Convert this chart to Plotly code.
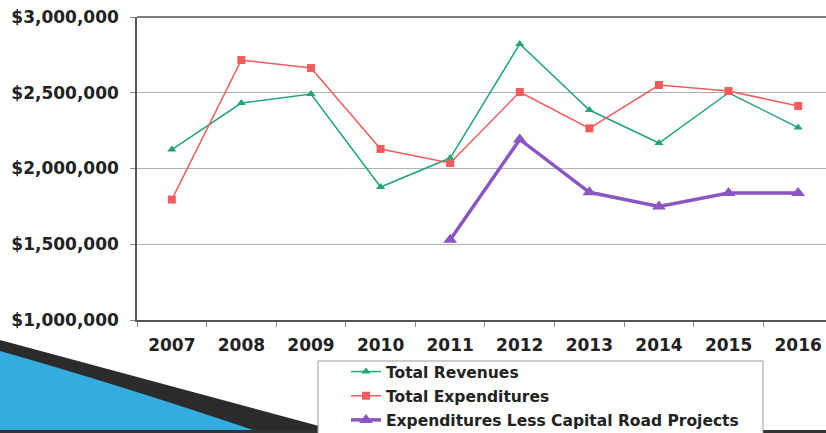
import plotly.graph_objects as go

years = ["2007", "2008", "2009", "2010", "2011", "2012", "2013", "2014", "2015", "2016"]
total_revenues = [2125000, 2432000, 2492000, 1878000, 2069000, 2822000, 2386000, 2168000, 2500000, 2270000]
total_expenditures = [1795000, 2716000, 2663000, 2129000, 2036000, 2505000, 2265000, 2551000, 2511000, 2413000]
exp_less_capital = [None, None, None, None, 1530000, 2192000, 1843000, 1750000, 1838000, 1838000]
y_ticks = [1000000, 1500000, 2000000, 2500000, 3000000]
y_tick_labels = ["$1,000,000", "$1,500,000", "$2,000,000", "$2,500,000", "$3,000,000"]

W, H = 826, 433
L, R, T, B = 137, 0, 17, 113
PW, PH = W - L - R, H - T - B

def px(x):
    return (x - L) / PW

def py(y):
    return (H - B - y) / PH

fig = go.Figure()
fig.add_trace(go.Scatter(
    x=years, y=total_revenues, name="Total Revenues", mode="lines+markers",
    legendgroup="a",
    line=dict(color="#22a47c", width=1.5),
    marker=dict(symbol="triangle-up", size=8, color="#22a47c")))
fig.add_trace(go.Scatter(
    x=years, y=total_expenditures, name="Total Expenditures", mode="lines+markers",
    legendgroup="b",
    line=dict(color="#f25c5c", width=1.5),
    marker=dict(symbol="square", size=8, color="#f25c5c")))
fig.add_trace(go.Scatter(
    x=years, y=exp_less_capital, name="Expenditures Less Capital Road Projects", mode="lines+markers",
    legendgroup="c",
    line=dict(color="#8b55c2", width=3.5),
    marker=dict(symbol="triangle-up", size=12, color="#8b55c2")))

shapes = []
# decorative slide swoosh (bottom-left)
dark = "M {} {} L {} {} L {} {} L {} {} Z".format(
    px(0), py(340), px(345), py(433), px(0), py(433), px(0), py(340))
shapes.append(dict(type="path", path=dark, xref="paper", yref="paper",
                   fillcolor="#2b2b2b", line=dict(width=0), layer="below"))
blue = "M {} {} Q {} {} {} {} L {} {} Z".format(
    px(0), py(351), px(120), py(385), px(262), py(433), px(0), py(433))
shapes.append(dict(type="path", path=blue, xref="paper", yref="paper",
                   fillcolor="#34ace0", line=dict(width=0), layer="below"))
# bottom dark edge
shapes.append(dict(type="rect", xref="paper", yref="paper",
                   x0=px(0), x1=px(826), y0=py(433), y1=py(430),
                   fillcolor="#333333", line=dict(width=0), layer="below"))
# legend box
shapes.append(dict(type="rect", xref="paper", yref="paper",
                   x0=px(318), x1=px(763), y0=py(440), y1=py(361),
                   fillcolor="white", line=dict(color="#999999", width=1), layer="below"))
# top border of plot
shapes.append(dict(type="line", xref="paper", yref="paper", x0=0, x1=1, y0=1, y1=1,
                   line=dict(color="#555555", width=1.5)))

fig.update_layout(
    width=W, height=H,
    margin=dict(l=L, r=R, t=T, b=B, pad=0, autoexpand=False),
    paper_bgcolor="white", plot_bgcolor="white",
    font=dict(family="DejaVu Sans", color="#222222"),
    showlegend=True,
    legend=dict(
        xref="container", yref="container",
        x=346 / W, y=1 - 355 / H, xanchor="left", yanchor="top",
        bgcolor="rgba(0,0,0,0)", borderwidth=0,
        font=dict(size=15.5, family="DejaVu Sans", weight="bold", color="#222222"),
        tracegroupgap=1, itemwidth=30, traceorder="grouped",
    ),
    shapes=shapes,
)
fig.update_xaxes(
    type="category", range=[-0.5, 9.4], automargin=False,
    showline=True, linecolor="#555555", linewidth=1.5,
    showgrid=False, ticks="outside", ticklen=5, tickcolor="#888888",
    tickson="boundaries", ticklabelstandoff=9,
    tickfont=dict(size=17, family="DejaVu Sans", weight="bold", color="#222222"),
)
fig.update_yaxes(
    range=[1000000, 3000000], tickvals=y_ticks, ticktext=y_tick_labels, automargin=False,
    showline=True, linecolor="#555555", linewidth=1.5,
    showgrid=True, gridcolor="#b0b0b0", gridwidth=1,
    ticks="outside", ticklen=5, tickcolor="#888888", ticklabelstandoff=8,
    tickfont=dict(size=17, family="DejaVu Sans", weight="bold", color="#222222"),
    zeroline=False,
)

fig.write_html("out.html", config={"displayModeBar": False},
               post_script="document.body.style.margin='0';document.body.style.overflow='hidden';")
